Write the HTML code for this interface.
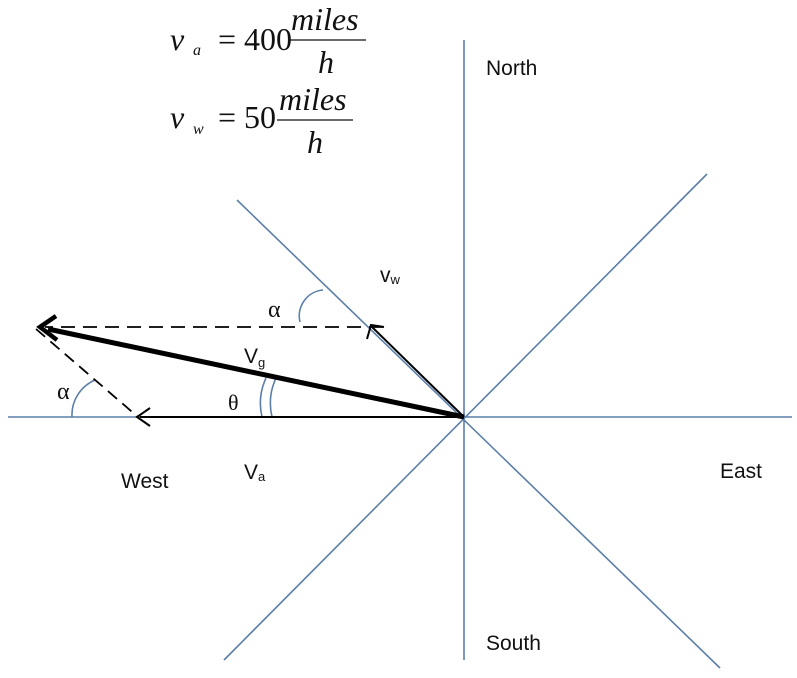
<!DOCTYPE html>
<html><head><style>
html,body{margin:0;padding:0;background:#fff;}
svg{display:block;}
.lbl{font-family:"Liberation Sans",sans-serif;font-size:21px;fill:#111;}
.eq{font-family:"Liberation Serif",serif;fill:#111;}
</style></head><body>
<svg width="797" height="678" viewBox="0 0 797 678">
<g stroke="#5b7fa8" stroke-width="1.6" fill="none">
<line x1="464" y1="40" x2="464" y2="660"/>
<line x1="8" y1="417" x2="792" y2="417"/>
<line x1="707" y1="174" x2="224" y2="660"/>
<line x1="237" y1="200" x2="720" y2="668"/>
<path d="M323,290 A26,26 0 0 0 300,322"/>
<path d="M95,380 A38,38 0 0 0 72,417"/>
<path d="M266,378 A60,60 0 0 0 262,417"/>
<path d="M277,376 A60,60 0 0 0 272,417"/>
</g>
<g stroke="#000" fill="none">
<line x1="464" y1="417" x2="140" y2="417" stroke-width="2"/>
<polyline points="150,408 137,417 150,426" stroke-width="2"/>
<line x1="464" y1="417" x2="371" y2="326" stroke-width="2"/>
<polyline points="367,339 371,325 384,327" stroke-width="2"/>
<line x1="383" y1="327" x2="45" y2="327" stroke-width="1.8" stroke-dasharray="14,8"/>
<line x1="464" y1="417" x2="48" y2="329" stroke-width="5"/>
<polyline points="56,316 40,327 57,340" stroke-width="4.5"/>
<line x1="36" y1="329" x2="138" y2="417" stroke-width="1.8" stroke-dasharray="12,7"/>
</g>
<text class="lbl" x="486" y="75">North</text>
<text class="lbl" x="486" y="650">South</text>
<text class="lbl" x="720" y="478">East</text>
<text class="lbl" x="121" y="488">West</text>
<text class="lbl" x="244" y="479">V<tspan style="font-size:13px" dy="2">a</tspan></text>
<text class="lbl" x="244" y="363">V<tspan style="font-size:13px" dy="4">g</tspan></text>
<text class="lbl" x="380" y="282">v<tspan style="font-size:13px" dy="2">w</tspan></text>
<text class="eq" x="268" y="317" style="font-size:24px">α</text>
<text class="eq" x="57" y="399" style="font-size:24px">α</text>
<text class="eq" x="228" y="410" style="font-size:22px">θ</text>
<text class="eq" x="170" y="50" style="font-size:32px;font-style:italic">v</text>
<text class="eq" x="193" y="55" style="font-size:16px;font-style:italic">a</text>
<text class="eq" x="218" y="50" style="font-size:32px">= 400</text>
<line x1="289" y1="40" x2="366" y2="40" stroke="#111" stroke-width="1.3"/>
<text class="eq" x="291" y="30" style="font-size:32px;font-style:italic">miles</text>
<text class="eq" x="318" y="73" style="font-size:32px;font-style:italic">h</text>
<text class="eq" x="170" y="128" style="font-size:32px;font-style:italic">v</text>
<text class="eq" x="193" y="134" style="font-size:16px;font-style:italic">w</text>
<text class="eq" x="218" y="128" style="font-size:32px">= 50</text>
<line x1="277" y1="120" x2="353" y2="120" stroke="#111" stroke-width="1.3"/>
<text class="eq" x="279" y="110" style="font-size:32px;font-style:italic">miles</text>
<text class="eq" x="307" y="153" style="font-size:32px;font-style:italic">h</text>
</svg>
</body></html>
